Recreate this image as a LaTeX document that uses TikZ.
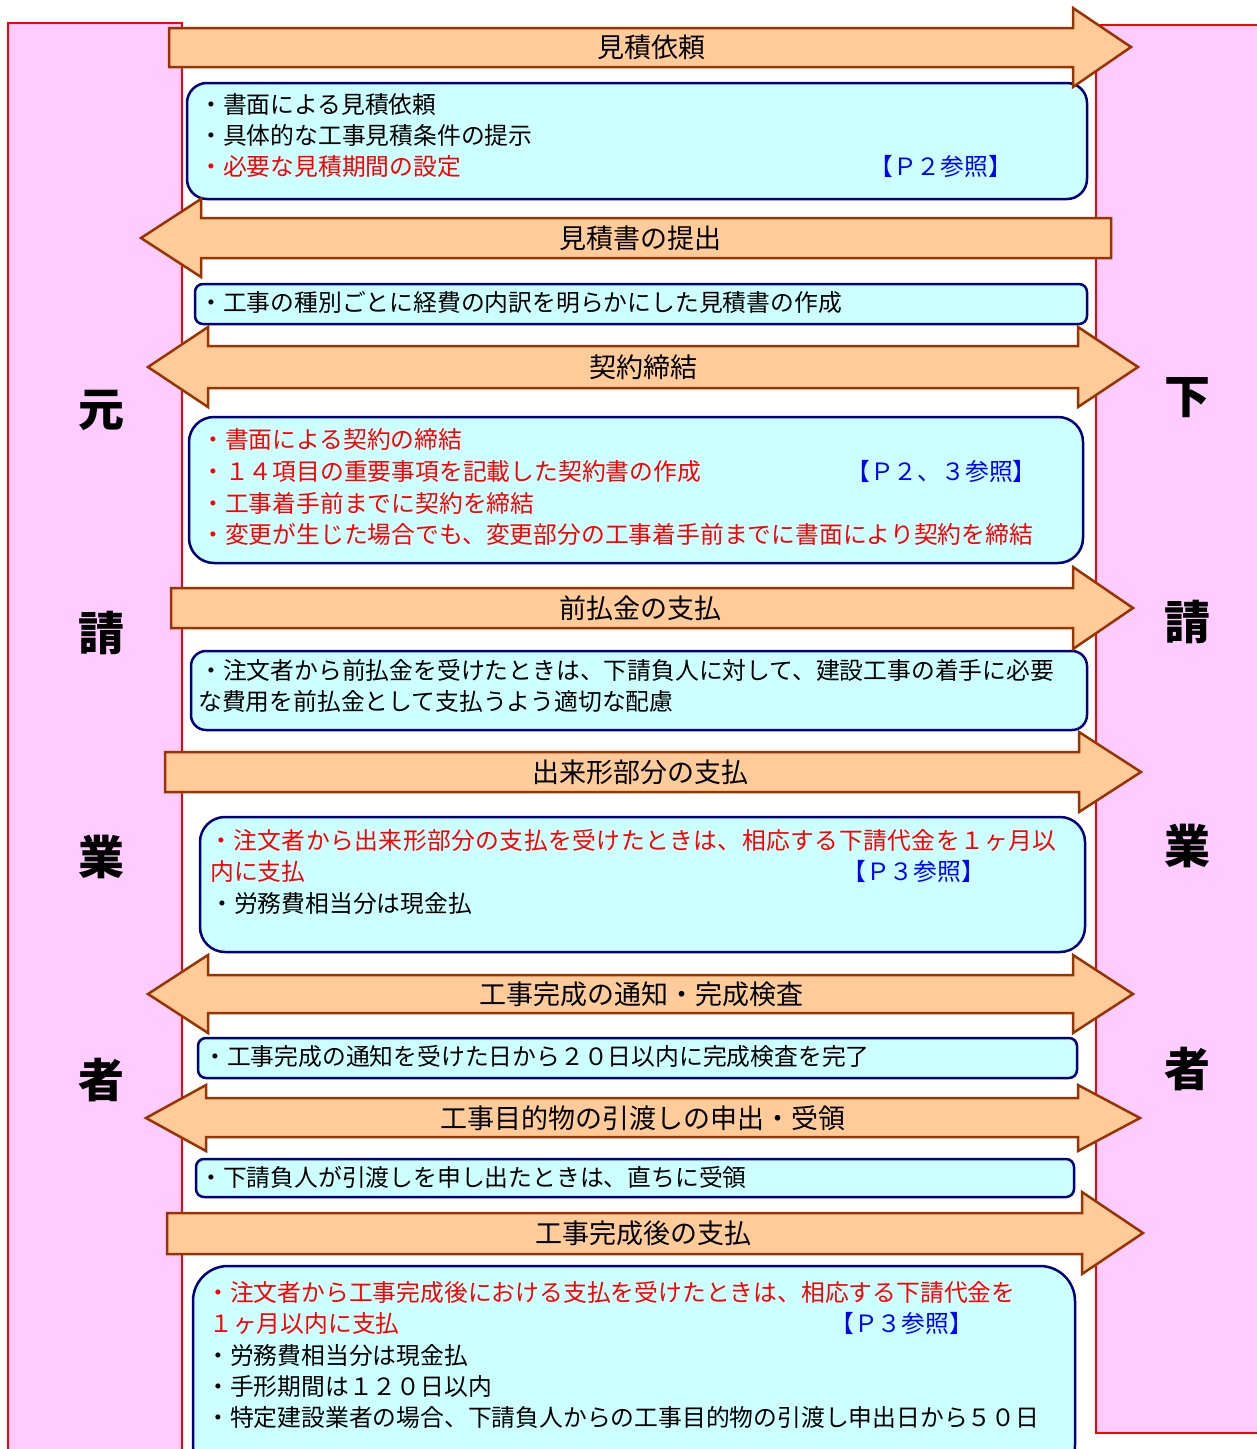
\documentclass[tikz,border=0pt]{standalone}
\usepackage{fontspec}
\setmainfont{Noto Sans CJK JP}
\newfontfamily\jpw{Noto Sans CJK JP}[LetterSpace=1.8]
\definecolor{pinkbg}{HTML}{FFCCFF}
\definecolor{sideline}{HTML}{FF0000}
\definecolor{arrowfill}{HTML}{FFCC99}
\definecolor{arrowline}{HTML}{993300}
\definecolor{boxfill}{HTML}{CCFFFF}
\definecolor{boxline}{HTML}{000080}
\definecolor{reftext}{HTML}{0000FF}
\definecolor{warntext}{HTML}{FF0000}
\begin{document}
\begin{tikzpicture}[x=1pt,y=-1pt,
  sidepanel/.style={fill=pinkbg,draw=sideline,line width=2pt},
  flow/.style={fill=arrowfill,draw=arrowline,line width=2.5pt,line join=miter},
  infobox/.style={fill=boxfill,draw=boxline,line width=2.5pt,inner sep=0pt},
  sidechar/.style={font=\fontsize{46}{50}\selectfont\bfseries,inner sep=0pt},
  flowlabel/.style={font=\fontsize{27}{30}\selectfont,inner sep=0pt,text height=23.8pt,text depth=3.2pt},
  ln/.style={anchor=west,inner sep=0pt,font=\fontsize{23.8}{28}\selectfont,text height=20.9pt,text depth=2.9pt},
  rln/.style={ln,text=warntext},
  bln/.style={ln,text=reftext}]
\useasboundingbox (0,0) rectangle (1257,1449);
\clip (0,0) rectangle (1257,1449);
% side panels
\draw[sidepanel] (8,23) rectangle (182,1470);
\draw[sidepanel] (1096,25) rectangle (1280,1433);
\node[sidechar] (l1) at (101,410) {元};
\node[sidechar] (l2) at (101,633) {請};
\node[sidechar] (l3) at (101,857) {業};
\node[sidechar] (l4) at (101,1080) {者};
\node[sidechar] (r1) at (1187,398) {下};
\node[sidechar] (r2) at (1187,622) {請};
\node[sidechar] (r3) at (1187,846) {業};
\node[sidechar] (r4) at (1187,1069) {者};
% boxes
\node[infobox,rounded corners=20pt,minimum width=900pt,minimum height=116pt] (box1) at (637,141) {};
\node[infobox,rounded corners=8pt,minimum width=892pt,minimum height=40pt] (box2) at (641,304) {};
\node[infobox,rounded corners=25pt,minimum width=894pt,minimum height=146pt] (box3) at (636,490) {};
\node[infobox,rounded corners=15pt,minimum width=896pt,minimum height=79pt] (box4) at (639,690.5) {};
\node[infobox,rounded corners=25pt,minimum width=885pt,minimum height=135pt] (box5) at (642.5,884.5) {};
\node[infobox,rounded corners=8pt,minimum width=879pt,minimum height=40pt] (box6) at (637.5,1058) {};
\node[infobox,rounded corners=8pt,minimum width=878pt,minimum height=38pt] (box7) at (635,1178) {};
\node[infobox,rounded corners=35pt,minimum width=882pt,minimum height=214pt] (box8) at (634,1373) {};
% arrows
\draw[flow] (169,28) -- (1073,28) -- (1073,8) -- (1131,47) -- (1073,87) -- (1073,67) -- (169,67) -- cycle;
\draw[flow] (1111,218) -- (201,218) -- (201,199) -- (141,238) -- (201,277) -- (201,258) -- (1111,258) -- cycle;
\draw[flow] (148,367) -- (208,327) -- (208,346) -- (1078,346) -- (1078,327) -- (1138,367) -- (1078,407) -- (1078,388) -- (208,388) -- (208,407) -- cycle;
\draw[flow] (171,588) -- (1073,588) -- (1073,567) -- (1133,608) -- (1073,649) -- (1073,628) -- (171,628) -- cycle;
\draw[flow] (165,752) -- (1079,752) -- (1079,732) -- (1141,772) -- (1079,812) -- (1079,792) -- (165,792) -- cycle;
\draw[flow] (148,994) -- (208,955) -- (208,975) -- (1073,975) -- (1073,955) -- (1133,994) -- (1073,1033) -- (1073,1013) -- (208,1013) -- (208,1033) -- cycle;
\draw[flow] (146,1118) -- (206,1085) -- (206,1098) -- (1078,1098) -- (1078,1085) -- (1140,1118) -- (1078,1151) -- (1078,1137) -- (206,1137) -- (206,1151) -- cycle;
\draw[flow] (167,1213) -- (1082,1213) -- (1082,1192) -- (1143,1233) -- (1082,1274) -- (1082,1254) -- (167,1254) -- cycle;
% arrow labels
\node[flowlabel] (f1) at (651,47) {見積依頼};
\node[flowlabel] (f2) at (640,238) {見積書の提出};
\node[flowlabel] (f3) at (643,367) {契約締結};
\node[flowlabel] (f4) at (640,608) {前払金の支払};
\node[flowlabel] (f5) at (640,772) {出来形部分の支払};
\node[flowlabel] (f6) at (641,994) {工事完成の通知・完成検査};
\node[flowlabel] (f7) at (643,1118) {工事目的物の引渡しの申出・受領};
\node[flowlabel] (f8) at (643,1233) {工事完成後の支払};
% box 1
\node[ln] (t11) at (199,104) {・書面による見積依頼};
\node[ln] (t12) at (199,135) {・具体的な工事見積条件の提示};
\node[rln] (t13) at (199,166) {・必要な見積期間の設定};
\node[bln] (t14) at (869,166) {【Ｐ２参照】};
% box 2
\node[ln] (t21) at (199,302) {・工事の種別ごとに経費の内訳を明らかにした見積書の作成};
% box 3
\node[rln] (t31) at (201,439) {・書面による契約の締結};
\node[rln] (t32) at (201,471) {・１４項目の重要事項を記載した契約書の作成};
\node[bln] (t33) at (846,471) {【Ｐ２、３参照】};
\node[rln] (t34) at (201,503) {・工事着手前までに契約を締結};
\node[rln] (t35) at (201,534) {・変更が生じた場合でも、変更部分の工事着手前までに書面により契約を締結};
% box 4
\node[ln] (t41) at (199,670) {・注文者から前払金を受けたときは、下請負人に対して、建設工事の着手に必要};
\node[ln] (t42) at (198,701) {な費用を前払金として支払うよう適切な配慮};
% box 5
\node[rln] (t51) at (209,840) {\jpw ・注文者から出来形部分の支払を受けたときは、相応する下請代金を１ヶ月以};
\node[rln] (t52) at (210,871) {内に支払};
\node[bln] (t53) at (842,871) {【Ｐ３参照】};
\node[ln] (t54) at (210,903) {・労務費相当分は現金払};
% box 6
\node[ln] (t61) at (203,1056) {・工事完成の通知を受けた日から２０日以内に完成検査を完了};
% box 7
\node[ln] (t71) at (199,1177) {・下請負人が引渡しを申し出たときは、直ちに受領};
% box 8
\node[rln] (t81) at (206,1292) {・注文者から工事完成後における支払を受けたときは、相応する下請代金を};
\node[rln] (t82) at (209,1323) {１ヶ月以内に支払};
\node[bln] (t83) at (830,1323) {【Ｐ３参照】};
\node[ln] (t84) at (206,1355) {・労務費相当分は現金払};
\node[ln] (t85) at (206,1386) {・手形期間は１２０日以内};
\node[ln] (t86) at (206,1417) {・特定建設業者の場合、下請負人からの工事目的物の引渡し申出日から５０日};
\end{tikzpicture}
\end{document}
